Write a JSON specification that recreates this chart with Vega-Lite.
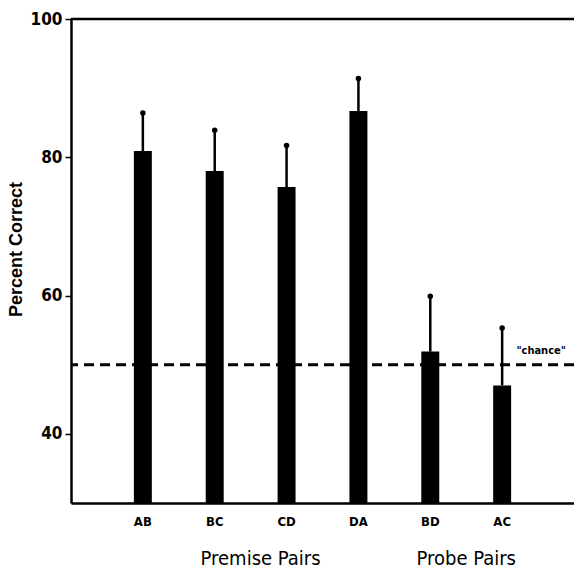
{
  "$schema": "https://vega.github.io/schema/vega-lite/v6.json",
  "width": 503,
  "height": 484,
  "autosize": "none",
  "padding": {"left": 71, "top": 19, "right": 0, "bottom": 69},
  "background": "white",
  "config": {"view": {"stroke": null}},
  "datasets": {
    "bars": [
      {"pair": "AB", "pct": 80.9, "err": 86.4},
      {"pair": "BC", "pct": 78.0, "err": 83.9},
      {"pair": "CD", "pct": 75.7, "err": 81.7},
      {"pair": "DA", "pct": 86.7, "err": 91.4},
      {"pair": "BD", "pct": 51.9, "err": 59.9},
      {"pair": "AC", "pct": 47.0, "err": 55.3}
    ],
    "premise": [{"pair": "CD", "label": "Premise Pairs"}],
    "probe": [{"pair": "BD", "label": "Probe Pairs"}],
    "note": [{"pair": "AC", "label": "\"chance\"", "y": 50}]
  },
  "encoding": {
    "x": {
      "field": "pair", "type": "nominal", "sort": ["AB", "BC", "CD", "DA", "BD", "AC"],
      "scale": {"paddingInner": 0.75, "paddingOuter": 0.875},
      "axis": {"title": null, "labelAngle": 0, "ticks": false, "domainColor": "black", "domainWidth": 2.5,
               "labelFont": "DejaVu Sans Condensed, Liberation Sans", "labelFontSize": 13, "labelFontWeight": "bold",
               "labelColor": "black", "labelPadding": 12}
    }
  },
  "layer": [
    {
      "data": {"name": "bars"},
      "mark": {"type": "bar", "color": "black"},
      "encoding": {
        "y": {"field": "pct", "type": "quantitative",
              "scale": {"domain": [30, 100], "nice": false, "zero": false},
              "axis": {"values": [40, 60, 80, 100], "grid": false, "title": "Percent Correct",
                       "titleFont": "Liberation Sans", "titleFontSize": 18, "titleFontWeight": "bold",
                       "titleColor": "black", "titlePadding": 5, "titleY": 230,
                       "labelFont": "DejaVu Sans Condensed, Liberation Sans", "labelFontSize": 17, "labelColor": "black",
                       "labelFontWeight": "bold",
                       "domainColor": "black", "domainWidth": 2.5, "tickColor": "black", "tickSize": 6,
                       "tickWidth": 1.5, "labelPadding": 3}},
        "y2": {"datum": 30}
      }
    },
    {
      "data": {"name": "bars"},
      "mark": {"type": "rule", "color": "black", "strokeWidth": 2.5},
      "encoding": {"y": {"field": "pct", "type": "quantitative"}, "y2": {"field": "err"}}
    },
    {
      "data": {"name": "bars"},
      "mark": {"type": "point", "filled": true, "color": "black", "size": 30, "opacity": 1, "shape": "circle"},
      "encoding": {"y": {"field": "err", "type": "quantitative"}}
    },
    {
      "data": {"values": [{"v": 50}]},
      "mark": {"type": "rule", "color": "black", "strokeWidth": 3, "strokeDash": [10, 6]},
      "encoding": {"x": null, "y": {"field": "v", "type": "quantitative"}}
    },
    {
      "data": {"values": [{"v": 100}]},
      "mark": {"type": "rule", "color": "black", "strokeWidth": 2.5},
      "encoding": {"x": null, "y": {"field": "v", "type": "quantitative"}}
    },
    {
      "data": {"name": "note"},
      "mark": {"type": "text", "font": "DejaVu Sans Condensed, Liberation Sans", "fontSize": 11, "fontWeight": "bold", "dx": 39, "dy": -14, "color": "black"},
      "encoding": {"y": {"field": "y", "type": "quantitative"}, "text": {"field": "label"}}
    },
    {
      "data": {"name": "premise"},
      "mark": {"type": "text", "font": "DejaVu Sans Condensed, Liberation Sans", "fontSize": 20, "dx": -26, "dy": 56, "color": "black", "clip": false},
      "encoding": {"y": {"datum": 30}, "text": {"field": "label"}}
    },
    {
      "data": {"name": "probe"},
      "mark": {"type": "text", "font": "DejaVu Sans Condensed, Liberation Sans", "fontSize": 20, "dx": 36, "dy": 56, "color": "black", "clip": false},
      "encoding": {"y": {"datum": 30}, "text": {"field": "label"}}
    }
  ]
}
